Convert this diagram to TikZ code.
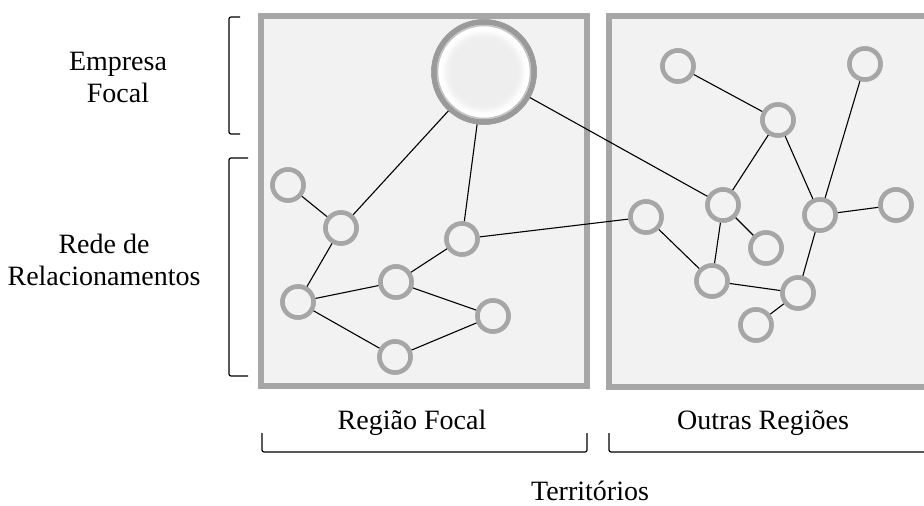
\documentclass[tikz,border=0pt]{standalone}
\usepackage{fontspec}
\setmainfont{Liberation Serif}
\begin{document}
\definecolor{ringgray}{HTML}{A6A6A6}
\definecolor{panel}{HTML}{F2F2F2}
\definecolor{bigring}{HTML}{9A9A9A}
\definecolor{glow}{HTML}{EEEEEE}
\begin{tikzpicture}[x=1pt,y=-1pt,
  panelbox/.style={draw=ringgray,fill=panel,line width=6pt},
  actor/.style={circle,draw=ringgray,fill=panel,line width=4.5pt,minimum size=31pt,inner sep=0pt},
  focal/.style={circle,draw=bigring,line width=5.5pt,minimum size=100pt,inner sep=0pt,fill=white},
  tie/.style={draw=black,line width=1.1pt},
  brace/.style={draw=black,line width=1.2pt,rounded corners=2pt},
  lbl/.style={font=\fontsize{28}{32}\selectfont,align=center,inner sep=0pt}]
\useasboundingbox (0,0) rectangle (924,506);
\clip (0,0) rectangle (924,506);

% territory panels
\path[panelbox] (261,16) rectangle (587,386);
\path[panelbox] (609,16) rectangle (940,387);

% actors in the focal region
\node[focal] (B) at (484,72) {};
\node[actor] (a1) at (288,185) {};
\node[actor] (a2) at (341,228) {};
\node[actor] (a3) at (462,239) {};
\node[actor] (a4) at (396,282) {};
\node[actor] (a5) at (298,302) {};
\node[actor] (a6) at (493,316) {};
\node[actor] (a7) at (395,357) {};

% actors in the other regions
\node[actor] (b1) at (678,66) {};
\node[actor] (b2) at (865,64) {};
\node[actor] (b3) at (778,120) {};
\node[actor] (b4) at (723,205) {};
\node[actor] (b5) at (820,215) {};
\node[actor] (b6) at (896,205) {};
\node[actor] (b7) at (646,217) {};
\node[actor] (b8) at (766,248) {};
\node[actor] (b9) at (712,281) {};
\node[actor] (b10) at (798,293) {};
\node[actor] (b11) at (756,325) {};

% relationships
\foreach \u/\v in {a1/a2,a2/B,a2/a5,a3/B,a3/a4,a3/b7,a4/a5,a4/a6,a5/a7,a7/a6,
  B/b4,b4/b3,b3/b1,b3/b5,b5/b2,b5/b6,b5/b10,b4/b9,b4/b8,b7/b9,b9/b10,b10/b11}
  \draw[tie] (\u) -- (\v);

% redraw nodes over the ties; the focal firm gets a soft grey core
\node[focal] at (B) {};
\foreach \r/\c in {42/20,40/45,38/70,36/90,33/100}
  \fill[glow!\c!white] (B.center) circle (\r pt);
\draw[bigring!60!white,line width=1.5pt] (B.center) circle (46.5pt);
\foreach \n in {a1,a2,a3,a4,a5,a6,a7,b1,b2,b3,b4,b5,b6,b7,b8,b9,b10,b11}
  \node[actor] at (\n) {};

% brackets on the left
\coordinate (e1) at (240,17);  \coordinate (e2) at (240,134);
\coordinate (r1) at (248,158); \coordinate (r2) at (248,376);
\draw[brace] (e1) -- (229,17) -- (229,134) -- (e2);
\draw[brace] (r1) -- (229,158) -- (229,376) -- (r2);

% brackets underneath
\coordinate (f1) at (262,433); \coordinate (f2) at (587,433);
\coordinate (o1) at (609,433); \coordinate (o2) at (930,452);
\draw[brace] (f1) -- (262,452) -- (587,452) -- (f2);
\draw[brace] (o1) -- (609,452) -- (o2);

% labels
\node[lbl] (emp) at (118,77) {Empresa\\Focal};
\node[lbl] (rede) at (104,260) {Rede de\\Relacionamentos};
\node[lbl,anchor=base] (rf) at (412,429) {Região Focal};
\node[lbl,anchor=base] (or) at (763,429) {Outras Regiões};
\node[lbl,anchor=base] (ter) at (590,500) {Territórios};
\end{tikzpicture}
\end{document}
